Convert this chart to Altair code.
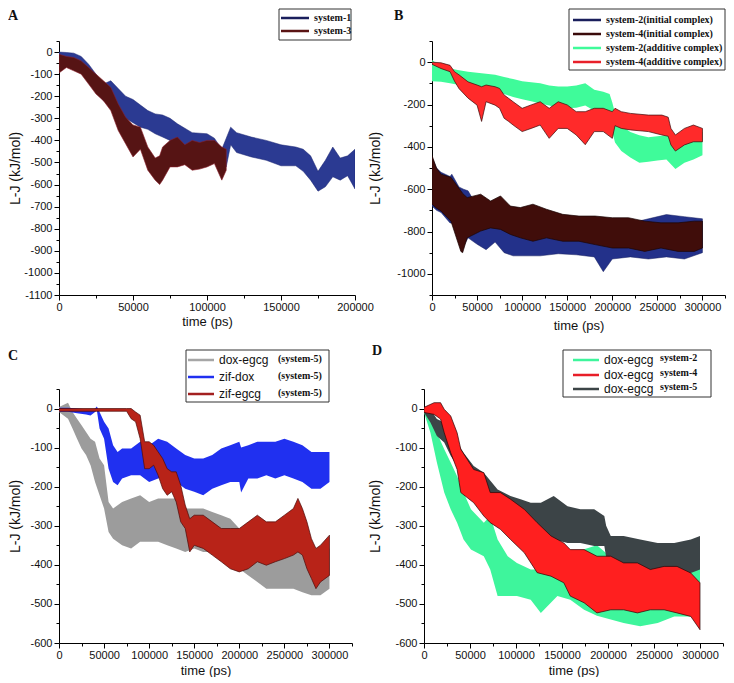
import altair as alt
import pandas as pd

# ---------------- Panel A ----------------
a1_t = [0, 5000, 10000, 15000, 20000, 25000, 30000, 35000, 40000, 45000, 50000, 55000, 60000, 65000, 70000, 75000, 80000, 90000, 100000, 105000, 110000, 113000, 116000, 120000, 130000, 140000, 150000, 160000, 165000, 170000, 175000, 180000, 185000, 190000, 195000, 200000]
a1_hi = [0, -2, -5, -20, -55, -100, -145, -130, -165, -200, -215, -240, -265, -280, -285, -300, -325, -365, -370, -390, -440, -390, -340, -365, -385, -400, -420, -430, -440, -470, -540, -490, -430, -480, -470, -440]
a1_lo = [-20, -25, -30, -60, -130, -180, -220, -240, -265, -300, -320, -340, -350, -370, -385, -400, -415, -440, -460, -480, -540, -520, -420, -455, -475, -490, -515, -515, -540, -580, -630, -610, -565, -580, -560, -620]

a3_t = [0, 5000, 10000, 15000, 20000, 25000, 30000, 35000, 40000, 45000, 50000, 55000, 60000, 65000, 68000, 70000, 75000, 80000, 85000, 90000, 95000, 100000, 105000, 110000, 113000]
a3_hi = [-10, -20, -25, -40, -70, -100, -130, -160, -235, -295, -330, -340, -430, -480, -470, -430, -400, -385, -420, -400, -410, -400, -400, -430, -440]
a3_lo = [-95, -70, -85, -100, -145, -190, -220, -265, -355, -415, -475, -440, -535, -580, -600, -580, -520, -520, -510, -535, -530, -520, -505, -580, -535]

# ---------------- Panel B ----------------
bg_t = [0, 10000, 20000, 30000, 40000, 50000, 60000, 70000, 80000, 90000, 100000, 110000, 120000, 130000, 140000, 150000, 160000, 170000, 180000, 190000, 197000, 200000, 203000, 210000, 220000, 230000, 240000, 250000, 260000, 270000, 280000, 290000, 300000]
bg_hi = [10, -20, -30, -38, -45, -50, -55, -60, -70, -80, -90, -95, -100, -110, -115, -115, -110, -100, -130, -140, -150, -190, -240, -300, -330, -345, -355, -350, -345, -360, -350, -345, -330]
bg_lo = [-90, -93, -100, -108, -115, -124, -132, -140, -150, -165, -175, -185, -195, -205, -215, -218, -215, -205, -230, -240, -250, -330, -380, -420, -450, -475, -470, -465, -460, -505, -475, -460, -440]

br_t = [0, 10000, 20000, 25000, 30000, 40000, 50000, 55000, 60000, 70000, 75000, 80000, 85000, 90000, 100000, 110000, 120000, 130000, 140000, 150000, 160000, 170000, 180000, 190000, 200000, 203000, 210000, 220000, 240000, 255000, 262000, 265000, 270000, 280000, 290000, 300000]
br_hi = [0, -3, -15, -45, -60, -93, -108, -116, -108, -116, -124, -155, -171, -187, -218, -202, -187, -218, -187, -202, -234, -234, -218, -218, -234, -218, -234, -242, -250, -250, -260, -313, -344, -313, -297, -313]
br_lo = [-10, -30, -45, -90, -125, -170, -203, -280, -187, -203, -218, -265, -280, -297, -328, -313, -297, -360, -313, -313, -344, -390, -328, -328, -360, -300, -313, -320, -328, -344, -350, -391, -420, -391, -376, -376]

bn_t = [0, 5000, 10000, 20000, 22000, 30000, 35000, 40000, 50000, 60000, 70000, 80000, 90000, 100000, 120000, 140000, 160000, 180000, 190000, 200000, 220000, 240000, 260000, 280000, 300000]
bn_hi = [-450, -500, -520, -540, -529, -590, -600, -608, -680, -700, -690, -720, -730, -740, -760, -770, -760, -770, -780, -780, -760, -740, -720, -730, -740]
bn_lo = [-680, -700, -710, -760, -760, -800, -870, -830, -860, -886, -850, -900, -915, -915, -915, -905, -910, -920, -990, -930, -920, -930, -920, -930, -900]

bb_t = [0, 5000, 10000, 21000, 32000, 34000, 39000, 54000, 65000, 76000, 87000, 98000, 112000, 127000, 145000, 163000, 181000, 200000, 218000, 236000, 254000, 273000, 291000, 300000]
bb_hi = [-441, -500, -529, -544, -608, -620, -640, -624, -656, -632, -680, -687, -671, -695, -719, -727, -727, -735, -735, -751, -759, -759, -751, -751]
bb_lo = [-671, -690, -703, -751, -894, -900, -830, -798, -783, -790, -814, -830, -846, -830, -846, -846, -862, -878, -878, -894, -878, -894, -894, -878]

# ---------------- Panel C ----------------
cg_t = [0, 10000, 15000, 20000, 25000, 30000, 35000, 40000, 45000, 50000, 55000, 60000, 70000, 80000, 90000, 100000, 110000, 120000, 130000, 140000, 150000, 160000, 170000, 180000, 190000, 200000, 210000, 220000, 230000, 240000, 250000, 260000, 270000, 280000, 290000, 300000]
cg_hi = [4, 15, -9, -26, -43, -60, -77, -85, -128, -145, -239, -256, -239, -230, -222, -239, -230, -230, -230, -256, -256, -256, -265, -273, -282, -307, -324, -341, -358, -375, -358, -358, -341, -358, -367, -358]
cg_lo = [-9, -26, -51, -77, -102, -119, -145, -188, -222, -256, -316, -333, -350, -358, -341, -341, -341, -350, -358, -367, -358, -367, -367, -375, -392, -410, -427, -444, -461, -461, -461, -461, -470, -478, -478, -461]

cb_t = [0, 10000, 20000, 30000, 35000, 40000, 42000, 45000, 50000, 55000, 60000, 65000, 70000, 80000, 90000, 100000, 110000, 120000, 130000, 140000, 150000, 160000, 170000, 180000, 190000, 200000, 202000, 210000, 220000, 230000, 240000, 250000, 260000, 270000, 280000, 290000, 300000]
cb_hi = [2, 2, 0, -2, -5, 0, 5, -9, -34, -51, -94, -111, -102, -102, -85, -94, -77, -85, -102, -119, -128, -128, -119, -102, -94, -85, -100, -94, -85, -85, -85, -77, -85, -94, -111, -111, -111]
cb_lo = [-8, -8, -12, -15, -18, -9, -5, -51, -77, -154, -188, -196, -179, -171, -171, -188, -179, -171, -188, -205, -213, -222, -205, -196, -188, -188, -215, -179, -179, -171, -179, -171, -179, -188, -205, -205, -188]

cr_t = [0, 40000, 75000, 80000, 85000, 90000, 95000, 100000, 105000, 110000, 115000, 120000, 125000, 130000, 135000, 140000, 145000, 150000, 160000, 170000, 180000, 190000, 200000, 210000, 220000, 230000, 240000, 250000, 260000, 265000, 270000, 275000, 280000, 285000, 290000, 300000]
cr_hi = [0, 0, 0, 0, -9, -17, -85, -85, -94, -111, -128, -154, -162, -162, -196, -247, -282, -273, -273, -290, -307, -307, -307, -290, -273, -290, -290, -273, -256, -230, -256, -290, -333, -358, -350, -324]
cr_lo = [-7, -7, -7, -26, -34, -77, -154, -154, -145, -171, -205, -222, -213, -239, -290, -307, -367, -350, -358, -375, -392, -410, -418, -410, -392, -401, -392, -384, -375, -367, -375, -410, -435, -461, -444, -427]

# ---------------- Panel D ----------------
dg_t = [0, 7000, 14000, 22000, 29000, 36000, 43000, 51000, 65000, 72000, 80000, 91000, 101000, 116000, 127000, 145000, 159000, 174000, 188000, 203000, 217000, 235000, 254000, 272000, 290000, 300000]
dg_hi = [0, -10, -62, -104, -138, -173, -215, -258, -292, -275, -335, -378, -395, -412, -412, -412, -429, -360, -350, -380, -395, -412, -412, -404, -378, -395]
dg_lo = [-10, -62, -138, -215, -258, -292, -335, -361, -378, -412, -480, -480, -480, -489, -523, -480, -489, -515, -530, -540, -549, -557, -549, -532, -532, -523]

dk_t = [0, 7000, 14000, 22000, 29000, 36000, 43000, 54000, 65000, 80000, 94000, 105000, 116000, 127000, 141000, 156000, 170000, 185000, 196000, 198000, 203000, 217000, 235000, 254000, 272000, 290000, 300000]
dk_hi = [0, -2, -27, -36, -62, -87, -113, -147, -164, -207, -224, -232, -241, -241, -224, -250, -258, -258, -275, -300, -326, -326, -335, -344, -344, -335, -326]
dk_lo = [-10, -36, -70, -87, -121, -147, -181, -207, -241, -275, -309, -335, -344, -335, -335, -344, -344, -352, -352, -380, -412, -412, -412, -421, -421, -421, -412]

dr_t = [0, 11000, 18000, 22000, 29000, 36000, 40000, 54000, 65000, 72000, 83000, 94000, 109000, 123000, 138000, 152000, 159000, 174000, 188000, 203000, 217000, 232000, 246000, 261000, 275000, 290000, 300000]
dr_hi = [3, 15, 15, -2, -19, -62, -104, -156, -164, -215, -215, -232, -258, -292, -326, -344, -361, -361, -378, -378, -395, -395, -412, -404, -404, -421, -446]
dr_lo = [-10, -15, -27, -62, -113, -156, -215, -241, -275, -292, -309, -335, -369, -420, -429, -446, -480, -497, -523, -515, -515, -523, -515, -515, -523, -532, -566]

# tick value lists
xticks_a = [0, 25000, 50000, 75000, 100000, 125000, 150000, 175000, 200000]
xticks_b = [0, 25000, 50000, 75000, 100000, 125000, 150000, 175000, 200000, 225000, 250000, 275000, 300000, 325000]
yticks_a = [-1100, -1050, -1000, -950, -900, -850, -800, -750, -700, -650, -600, -550, -500, -450, -400, -350, -300, -250, -200, -150, -100, -50, 0, 50]
yticks_b = [-1100, -1000, -900, -800, -700, -600, -500, -400, -300, -200, -100, 0, 100]
yticks_c = [-600, -550, -500, -450, -400, -350, -300, -250, -200, -150, -100, -50, 0, 50]

SANS = "Liberation Sans"
SERIF = "Liberation Serif"
ONE = pd.DataFrame({"k": [0]})


def xaxis(vals, title_y):
    return alt.Axis(
        title="time (ps)", values=vals,
        labelExpr="datum.value % 50000 === 0 ? '' + datum.value : ''",
        tickSize={"condition": {"test": "datum.value % 50000 === 0", "value": 5}, "value": 3},
        grid=False, domainColor="black", tickColor="black", domainWidth=1, tickWidth=1,
        labelFont=SANS, labelFontSize=11, labelColor="#111", labelPadding=1,
        labelOverlap=False, labelFlush=False,
        titleFont=SANS, titleFontSize=13, titleFontWeight="normal", titleColor="#111",
        titleY=title_y)


def yaxis(vals, step, title_x):
    return alt.Axis(
        title="L-J (kJ/mol)", values=vals,
        labelExpr=f"datum.value % {step} === 0 ? '' + datum.value : ''",
        tickSize={"condition": {"test": f"datum.value % {step} === 0", "value": 5}, "value": 3},
        grid=False, domainColor="black", tickColor="black", domainWidth=1, tickWidth=1,
        labelFont=SANS, labelFontSize=11, labelColor="#111", labelPadding=2,
        labelOverlap=False, labelFlush=False,
        titleFont=SANS, titleFontSize=14, titleFontWeight="normal", titleColor="#111",
        titleX=title_x)


def band(t, lo, hi, xs, ys, xa, ya, fill, stroke=None, sw=0.6):
    df = pd.DataFrame({"t": t, "lo": lo, "hi": hi})
    kw = dict(fill=fill, opacity=1, interpolate="linear", clip=True)
    if stroke:
        kw.update(stroke=stroke, strokeWidth=sw)
    return alt.Chart(df).mark_area(**kw).encode(
        x=alt.X("t:Q", scale=xs, axis=xa),
        y=alt.Y("lo:Q", scale=ys, axis=ya),
        y2="hi:Q")


def legend(box, rows):
    x0, x1, y0, y1 = box
    layers = [alt.Chart(ONE).mark_rect(fill="white", stroke="#333", strokeWidth=1).encode(
        x=alt.value(x0), x2=alt.value(x1), y=alt.value(y0), y2=alt.value(y1))]
    for r in rows:
        layers.append(alt.Chart(ONE).mark_rule(color=r["color"], strokeWidth=2.5).encode(
            x=alt.value(r["lx0"]), x2=alt.value(r["lx1"]), y=alt.value(r["y"])))
        for (txt, tx, dy, font, size, weight) in r["texts"]:
            layers.append(alt.Chart(ONE).mark_text(
                text=txt, font=font, fontSize=size, fontWeight=weight, align="left",
                baseline="middle", color="#111").encode(
                x=alt.value(tx), y=alt.value(r["y"] + dy)))
    return layers


def letter(ch, x, y):
    return alt.Chart(ONE).mark_text(text=ch, font=SERIF, fontSize=14, fontWeight="bold",
                                    align="left", baseline="middle", color="#111").encode(
        x=alt.value(x), y=alt.value(y))


# ---------- Panel A ----------
xsA = alt.Scale(domain=[0, 200000], nice=False, zero=False)
ysA = alt.Scale(domain=[-1100, 50], nice=False, zero=False)
xaA = xaxis(xticks_a, 20)
yaA = yaxis(yticks_a, 100, -37)
legA = legend((220, 292, -32, -1), [
    {"color": "#1a1f5c", "lx0": 222, "lx1": 250, "y": -23,
     "texts": [("system-1", 255, 0, SERIF, 10, "bold")]},
    {"color": "#5a1414", "lx0": 222, "lx1": 250, "y": -10,
     "texts": [("system-3", 255, 0, SERIF, 10, "bold")]},
])
panelA = alt.layer(
    band(a1_t, a1_lo, a1_hi, xsA, ysA, xaA, yaA, "#2b3a92", "#1b2470", 0.5),
    band(a3_t, a3_lo, a3_hi, xsA, ysA, xaA, yaA, "#561414", "#8a1f2a", 0.6),
    *legA, letter("A", -51, -25)
).properties(width=296, height=254)

# ---------- Panel B ----------
xsB = alt.Scale(domain=[0, 325000], nice=False, zero=False)
ysB = alt.Scale(domain=[-1100, 100], nice=False, zero=False)
xaB = xaxis(xticks_b, 24)
yaB = yaxis(yticks_b, 200, -50)
legB = legend((137, 293, -32, 29), [
    {"color": "#1a1f5c", "lx0": 141, "lx1": 169, "y": -21,
     "texts": [("system-2(initial complex)", 174, 0, SERIF, 10, "bold")]},
    {"color": "#3a0a0a", "lx0": 141, "lx1": 169, "y": -7,
     "texts": [("system-4(initial complex)", 174, 0, SERIF, 10, "bold")]},
    {"color": "#3ffb9a", "lx0": 141, "lx1": 169, "y": 7,
     "texts": [("system-2(additive complex)", 174, 0, SERIF, 10, "bold")]},
    {"color": "#e8202a", "lx0": 141, "lx1": 169, "y": 21,
     "texts": [("system-4(additive complex)", 174, 0, SERIF, 10, "bold")]},
])
panelB = alt.layer(
    band(bn_t, bn_lo, bn_hi, xsB, ysB, xaB, yaB, "#23318a", "#1a2260", 0.5),
    band(bb_t, bb_lo, bb_hi, xsB, ysB, xaB, yaB, "#400d0a", "#1a0505", 0.7),
    band(bg_t, bg_lo, bg_hi, xsB, ysB, xaB, yaB, "#3ffb9a"),
    band(br_t, br_lo, br_hi, xsB, ysB, xaB, yaB, "#ff2a2a", "#3a0808", 0.7),
    *legB, letter("B", -38, -25)
).properties(width=293, height=254)

# ---------- Panel C ----------
xsC = alt.Scale(domain=[0, 325000], nice=False, zero=False)
ysC = alt.Scale(domain=[-600, 50], nice=False, zero=False)
xaC = xaxis(xticks_b, 21)
yaC = yaxis(yticks_c, 100, -37)
legC = legend((127, 270, -39, 13), [
    {"color": "#a6a6a6", "lx0": 129, "lx1": 155, "y": -29,
     "texts": [("dox-egcg", 160, 0, SANS, 12, "normal"), ("(system-5)", 219, -1, SERIF, 10, "bold")]},
    {"color": "#2030f0", "lx0": 129, "lx1": 155, "y": -12,
     "texts": [("zif-dox", 160, 0, SANS, 12, "normal"), ("(system-5)", 219, -1, SERIF, 10, "bold")]},
    {"color": "#a32020", "lx0": 129, "lx1": 155, "y": 5,
     "texts": [("zif-egcg", 160, 0, SANS, 12, "normal"), ("(system-5)", 219, -1, SERIF, 10, "bold")]},
])
panelC = alt.layer(
    band(cg_t, cg_lo, cg_hi, xsC, ysC, xaC, yaC, "#9c9c9c"),
    band(cb_t, cb_lo, cb_hi, xsC, ysC, xaC, yaC, "#2030f0"),
    band(cr_t, cr_lo, cr_hi, xsC, ysC, xaC, yaC, "#b82318", "#4a0a08", 0.7),
    *legC, letter("C", -51, -33)
).properties(width=293, height=254)

# ---------- Panel D ----------
xsD = alt.Scale(domain=[0, 325000], nice=False, zero=False)
ysD = alt.Scale(domain=[-600, 50], nice=False, zero=False)
xaD = xaxis(xticks_b, 21)
yaD = yaxis(yticks_c, 100, -42)
legD = legend((139, 287, -39, 8), [
    {"color": "#3ef59c", "lx0": 149, "lx1": 175, "y": -29,
     "texts": [("dox-egcg", 180, 0, SANS, 12, "normal"), ("system-2", 236, -2, SERIF, 10, "bold")]},
    {"color": "#e81e28", "lx0": 149, "lx1": 175, "y": -14,
     "texts": [("dox-egcg", 180, 0, SANS, 12, "normal"), ("system-4", 236, -2, SERIF, 10, "bold")]},
    {"color": "#3c4447", "lx0": 149, "lx1": 175, "y": 0,
     "texts": [("dox-egcg", 180, 0, SANS, 12, "normal"), ("system-5", 236, -2, SERIF, 10, "bold")]},
])
panelD = alt.layer(
    band(dg_t, dg_lo, dg_hi, xsD, ysD, xaD, yaD, "#3ef59c"),
    band(dk_t, dk_lo, dk_hi, xsD, ysD, xaD, yaD, "#3c4447"),
    band(dr_t, dr_lo, dr_hi, xsD, ysD, xaD, yaD, "#ff1f1f", "#2a0505", 0.7),
    *legD, letter("D", -52, -38)
).properties(width=299, height=254)

top = alt.hconcat(panelA, panelB, spacing=77, bounds="flush")
bottom = alt.hconcat(panelC, panelD, spacing=72, bounds="flush")
chart = alt.vconcat(top, bottom, spacing=12).properties(
    padding=0).configure_view(stroke=None)

chart.save("out.html", embed_options={"renderer": "svg", "actions": False})
